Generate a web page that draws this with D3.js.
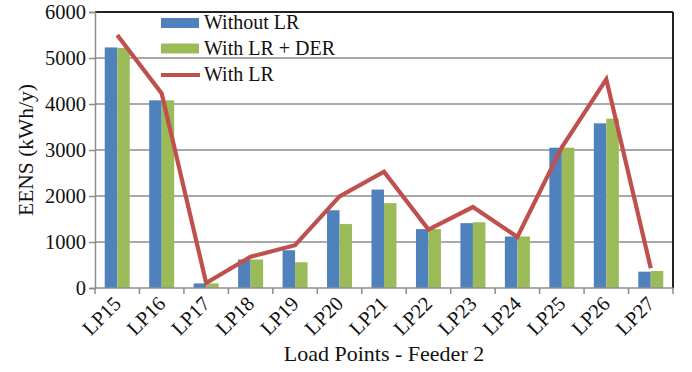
<!DOCTYPE html>
<html><head><meta charset="utf-8">
<script src="https://cdn.jsdelivr.net/npm/d3@7"></script>
<style>body{margin:0;background:#fff}svg{display:block}text{font-family:"Liberation Serif","Times New Roman",serif;fill:#111}</style>
</head><body>
<svg id="c" width="692" height="372"></svg>
<script>
const categories = ["LP15","LP16","LP17","LP18","LP19","LP20","LP21","LP22","LP23","LP24","LP25","LP26","LP27"];
const withoutLR = [5230, 4080, 100, 620, 820, 1690, 2140, 1280, 1410, 1120, 3050, 3580, 355];
const withLRDER = [5220, 4080, 100, 620, 560, 1390, 1845, 1280, 1430, 1120, 3050, 3680, 370];
const withLR = [5500, 4230, 110, 680, 930, 1990, 2530, 1270, 1760, 1110, 3060, 4540, 430];
const yTicks = [0, 1000, 2000, 3000, 4000, 5000, 6000];
const seriesNames = ["Without LR", "With LR + DER", "With LR"];
const colors = ["#4F81BD", "#9BBB59", "#C0504D"];

const svg = d3.select("#c");
const L = 95, R = 673, T = 12, B = 288;
const x = d3.scaleBand().domain(categories).range([L, R]).padding(0);
const y = d3.scaleLinear().domain([0, 6000]).range([B, T]);
const barW = 12.5;

// gridlines
svg.append("g").selectAll("line").data(yTicks.filter(t => t > 0 && t < 6000)).join("line")
  .attr("x1", L).attr("x2", R).attr("y1", d => y(d)).attr("y2", d => y(d))
  .attr("stroke", "#8c8c8c").attr("stroke-width", 1.5);

// bars
const g = svg.append("g");
categories.forEach((c, i) => {
  const cx = x(c) + x.bandwidth() / 2;
  g.append("rect").attr("x", cx - barW).attr("width", barW)
    .attr("y", y(withoutLR[i])).attr("height", y(0) - y(withoutLR[i])).attr("fill", colors[0]);
  g.append("rect").attr("x", cx).attr("width", barW)
    .attr("y", y(withLRDER[i])).attr("height", y(0) - y(withLRDER[i])).attr("fill", colors[1]);
});

// line
const line = d3.line().x((d, i) => x(categories[i]) + x.bandwidth() / 2).y(d => y(d));
svg.append("path").datum(withLR).attr("d", line).attr("fill", "none")
  .attr("stroke", colors[2]).attr("stroke-width", 4.2).attr("stroke-linejoin", "miter");

// frame: top & right black
svg.append("line").attr("x1", L).attr("x2", R).attr("y1", y(6000)).attr("y2", y(6000)).attr("stroke", "#222").attr("stroke-width", 2);
svg.append("line").attr("x1", R).attr("x2", R).attr("y1", y(6000)).attr("y2", B).attr("stroke", "#222").attr("stroke-width", 2);

// y axis
const yAxis = svg.append("g").attr("transform", `translate(${L},0)`)
  .call(d3.axisLeft(y).tickValues(yTicks).tickSize(6).tickPadding(3).tickFormat(d3.format("d")));
yAxis.select(".domain").attr("stroke", "#8c8c8c").attr("stroke-width", 1.5);
yAxis.selectAll(".tick line").attr("stroke", "#8c8c8c").attr("stroke-width", 1.5);
yAxis.selectAll("text").attr("font-size", 20.5).attr("font-family", "Liberation Serif").attr("fill", "#111");

// x axis
const xAxis = svg.append("g").attr("transform", `translate(0,${B})`);
xAxis.append("line").attr("x1", L).attr("x2", R).attr("stroke", "#8c8c8c").attr("stroke-width", 1.5);
const bounds = categories.map(c => x(c)).concat([R]);
xAxis.selectAll("line.tk").data(bounds).join("line").attr("class", "tk")
  .attr("x1", d => d).attr("x2", d => d).attr("y1", 0).attr("y2", 6)
  .attr("stroke", "#8c8c8c").attr("stroke-width", 1.5);
svg.append("g").selectAll("text").data(categories).join("text")
  .attr("transform", d => `translate(${x(d) + x.bandwidth() / 2 + 5},${B + 17}) rotate(-45)`)
  .attr("text-anchor", "end").attr("font-size", 20.5).text(d => d);

// axis titles
svg.append("text").attr("transform", `translate(33,${(T + B) / 2}) rotate(-90)`)
  .attr("text-anchor", "middle").attr("font-size", 21.5).text("EENS (kWh/y)");
svg.append("text").attr("x", (L + R) / 2).attr("y", 361)
  .attr("text-anchor", "middle").attr("font-size", 22).text("Load Points - Feeder 2");

// legend
const lg = svg.append("g");
const ly = [23, 48.5, 75];
lg.append("rect").attr("x", 161).attr("y", ly[0] - 5).attr("width", 38).attr("height", 10).attr("fill", colors[0]);
lg.append("rect").attr("x", 161).attr("y", ly[1] - 5).attr("width", 38).attr("height", 10).attr("fill", colors[1]);
lg.append("line").attr("x1", 161).attr("x2", 200).attr("y1", ly[2]).attr("y2", ly[2]).attr("stroke", colors[2]).attr("stroke-width", 4.2);
seriesNames.forEach((s, i) => {
  lg.append("text").attr("x", 204).attr("y", ly[i] + 6).attr("font-size", 20).text(s);
});
</script>
</body></html>
